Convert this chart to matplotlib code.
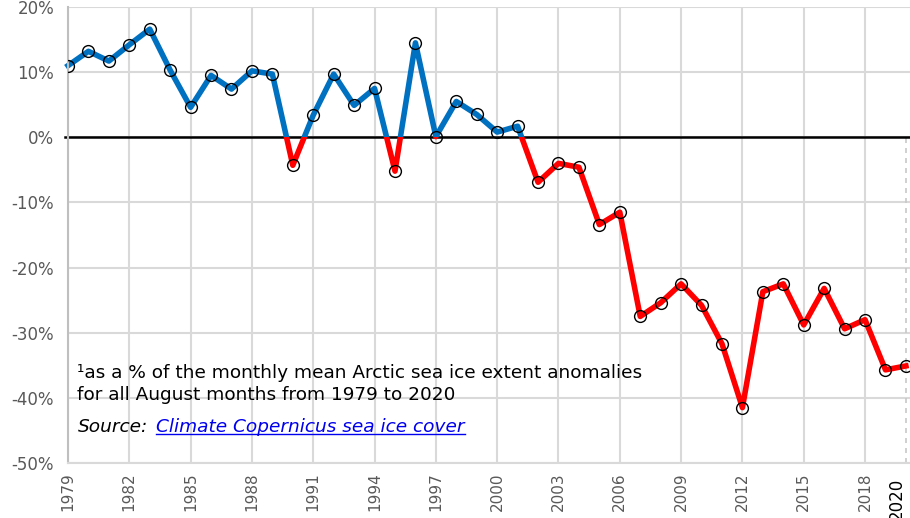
import matplotlib
matplotlib.use('Agg')
import matplotlib.pyplot as plt
from matplotlib.patches import Rectangle
import numpy as np

# data: August sea ice extent anomaly (%) per year
years = np.arange(1979, 2021)
anomaly = [11.0, 13.2, 11.7, 14.2, 16.6, 10.3, 4.6, 9.5, 7.4, 10.2,
           9.7, -4.3, 3.4, 9.7, 4.9, 7.5, -5.2, 14.5, 0.1, 5.5,
           3.5, 0.8, 1.7, -6.9, -4.0, -4.6, -13.4, -11.5, -27.5, -25.4,
           -22.5, -25.8, -31.7, -41.5, -23.7, -22.5, -28.8, -23.2, -29.4, -28.0,
           -35.7, -35.1]
tick_years = list(range(1979, 2019, 3))
last_year = 2020
y_ticks = [20, 10, 0, -10, -20, -30, -40, -50]

note1 = "\u00b9as a % of the monthly mean Arctic sea ice extent anomalies"
note2 = "for all August months from 1979 to 2020"
src = "Source:"
link = "Climate Copernicus sea ice cover"

blue = '#0070C0'
red = '#FF0000'
grid_c = '#d9d9d9'
lbl_c = '#595959'
link_c = '#0000EE'
fs_note = 13.3

plt.rcParams['font.family'] = ['DejaVu Sans']

fig = plt.figure(figsize=(9.1, 5.18), dpi=100)
ax = fig.add_axes([68/910, 1-463/518, 1-68/910, (463-7)/518])
ax.set_xlim(1979, 2020.2)
ax.set_ylim(-50, 20)

# grid
for yv in y_ticks:
    ax.axhline(yv, color=grid_c, lw=1.5, zorder=0)
for xv in tick_years:
    ax.axvline(xv, color=grid_c, lw=1.5, zorder=0)
ax.vlines(last_year, -50, 0, colors='#c8c8c8', linestyles=(0, (3, 3)), lw=1.2, zorder=0)
ax.axhline(0, color='black', lw=1.8, zorder=1, xmin=-0.004, clip_on=False)

# line, blue above zero, red below
l1, = ax.plot(years, anomaly, color=blue, lw=4, zorder=2, solid_joinstyle='round')
l2, = ax.plot(years, anomaly, color=red, lw=4, zorder=2, solid_joinstyle='round')
l1.set_clip_path(Rectangle((1970, 0), 60, 100, transform=ax.transData))
l2.set_clip_path(Rectangle((1970, -100), 60, 100, transform=ax.transData))
ax.plot(years, anomaly, 'o', mfc='none', mec='black', ms=8.5, mew=1, zorder=3)

for s in ['top', 'right']:
    ax.spines[s].set_visible(False)
ax.spines['left'].set_color('#bfbfbf')
ax.spines['bottom'].set_color(grid_c)
ax.spines['left'].set_linewidth(1.5)
ax.spines['bottom'].set_linewidth(1.5)

ax.tick_params(axis='both', length=0)
ax.tick_params(axis='y', pad=10, labelsize=12, labelcolor=lbl_c)
ax.tick_params(axis='x', pad=7, labelsize=11, labelcolor=lbl_c, labelrotation=90)
ax.set_yticks(y_ticks, [f"{v}%" for v in y_ticks])
ax.set_xticks(tick_years, [str(t) for t in tick_years])

# last year label, black and a bit larger, kept inside the canvas
ax.text(last_year, -52.2, str(last_year), rotation=90,
        ha='right', va='top', fontsize=12, color='black', clip_on=False)

# notes
ax.text(1979.44, -37.0, note1, fontsize=fs_note, color='black', va='baseline')
ax.text(1979.44, -40.4, note2, fontsize=fs_note, color='black', va='baseline')
t_src = ax.text(1979.5, -45.2, src, fontsize=fs_note, style='italic', color='black', va='baseline')

fig.canvas.draw()
inv = ax.transData.inverted()
sb = t_src.get_window_extent()
x_link = inv.transform((sb.x1 + 8, 0))[0]
t_link = ax.text(x_link, -45.2, link, fontsize=fs_note, style='italic', color=link_c, va='baseline')
fig.canvas.draw()
lb = t_link.get_window_extent()
lx0 = inv.transform((lb.x0, 0))[0]
lx1 = inv.transform((lb.x1, 0))[0]
ax.plot([lx0, lx1], [-45.55, -45.55], color=link_c, lw=1)

fig.savefig('out.png', dpi=100)
